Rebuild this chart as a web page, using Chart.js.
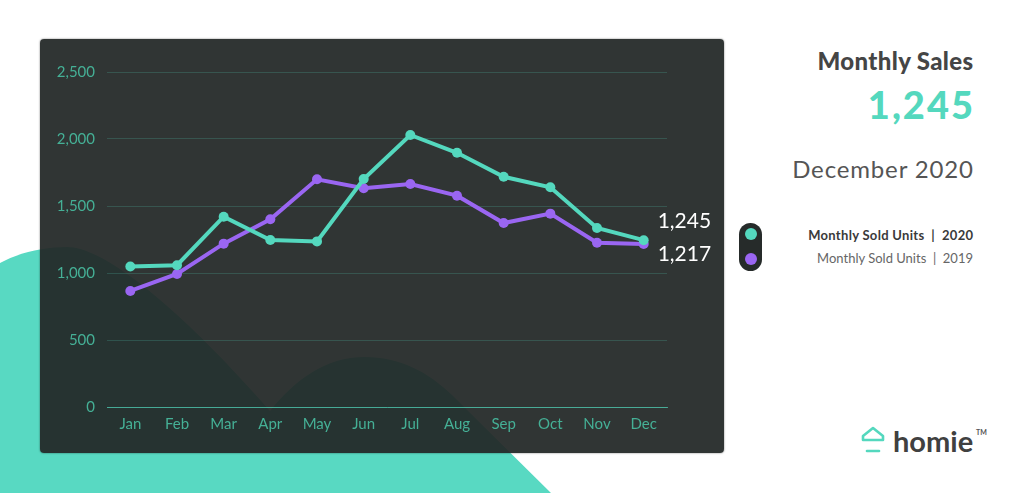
<!DOCTYPE html>
<html><head><meta charset="utf-8">
<script src="https://cdn.jsdelivr.net/npm/chart.js@4.4.0/dist/chart.umd.min.js"></script>
<style>
html,body{margin:0;padding:0;background:#fff;width:1024px;height:493px;overflow:hidden;font-family:Lato, sans-serif;}
#bg{position:absolute;left:0;top:0;}
#panel{position:absolute;left:40px;top:39px;width:684px;height:414px;background:rgba(35,40,39,0.94);border-radius:4px;box-shadow:0 0 2px rgba(0,0,0,0.55);}
#chartWrap{position:absolute;left:40px;top:39px;width:684px;height:414px;}
.t{position:absolute;text-align:right;white-space:nowrap;}
#h1{right:50.6px;top:48.7px;font-size:24px;line-height:24px;font-weight:900;color:#454545;letter-spacing:0.35px;}
#big{right:49px;top:85px;font-size:38px;line-height:38px;font-weight:900;color:#54d8be;letter-spacing:2px;}
#date{right:50.2px;top:156.7px;font-size:24px;line-height:24px;font-weight:400;color:#555;letter-spacing:0.85px;}
#l1{right:50.7px;top:228.5px;font-size:13px;line-height:13px;font-weight:700;color:#3a3a3a;letter-spacing:0.3px;}
#l2{right:51px;top:251.5px;font-size:13px;line-height:13px;font-weight:400;color:#666;}
#pill{position:absolute;left:739px;top:223px;width:23px;height:48px;border-radius:12px;background:#262b2a;}
.dot{position:absolute;left:5.5px;width:12px;height:12px;border-radius:6px;}
#logo{position:absolute;left:893px;top:426px;font-size:29px;line-height:29px;font-weight:700;color:#404040;}
#tm{position:absolute;left:976px;top:429px;font-size:7px;line-height:7px;color:#555;font-weight:700;}
</style></head>
<body>
<svg id="bg" width="1024" height="493">
<path d="M0,263 C20,252 45,247 67,247 C110,247 195,325 270,411 C295,380 325,357 365,357 C400,357 428,372 452,395 L551,493 L0,493 Z" fill="#58d9c2"/>
</svg>
<div id="panel"></div>
<div id="chartWrap"><canvas id="c" width="684" height="414"></canvas></div>
<div class="t" id="h1">Monthly Sales</div>
<div class="t" id="big">1,245</div>
<div class="t" id="date">December 2020</div>
<div class="t" id="l1">Monthly Sold Units&nbsp; |&nbsp; 2020</div>
<div class="t" id="l2">Monthly Sold Units&nbsp; |&nbsp; 2019</div>
<div id="pill"><div class="dot" style="top:5px;background:#54d8be"></div><div class="dot" style="top:30px;background:#9a66f2"></div></div>
<svg style="position:absolute;left:858px;top:424px" width="32" height="32">
<path d="M5,16 L5,12 L15,4 L25,12 L25,16 Z" fill="none" stroke="#54d8be" stroke-width="2.6" stroke-linejoin="round"/>
<line x1="9" y1="27" x2="21" y2="27" stroke="#54d8be" stroke-width="2.6" stroke-linecap="round"/>
</svg>
<div id="logo">homie</div>
<div id="tm">TM</div>
<script>
const months = ['Jan','Feb','Mar','Apr','May','Jun','Jul','Aug','Sep','Oct','Nov','Dec'];
const sales2020 = [1048, 1058, 1420, 1246, 1236, 1701, 2030, 1897, 1718, 1640, 1336, 1245];
const sales2019 = [866, 993, 1219, 1401, 1699, 1632, 1664, 1577, 1373, 1443, 1226, 1217];
const yTicks = [0, 500, 1000, 1500, 2000, 2500];
const TEAL = '#54d8be', PURPLE = '#9a66f2';
const fmt = v => v.toLocaleString('en-US');

Chart.defaults.font.family = 'Lato';

const endLabels = {
  id: 'endLabels',
  afterDatasetsDraw(chart) {
    const {ctx, scales: {x, y}} = chart;
    const i = months.length - 1;
    const px = x.getPixelForValue(i);
    ctx.save();
    ctx.font = '21px Lato';
    ctx.fillStyle = '#ffffff';
    ctx.textBaseline = 'middle';
    ctx.textAlign = 'left';
    ctx.fillText(fmt(sales2020[i]), px + 14, y.getPixelForValue(sales2020[i]) - 19);
    ctx.fillText(fmt(sales2019[i]), px + 14, y.getPixelForValue(sales2019[i]) + 10);
    ctx.restore();
  }
};

new Chart(document.getElementById('c'), {
  type: 'line',
  data: {
    labels: months,
    datasets: [
      {label: 'Monthly Sold Units | 2020', data: sales2020, borderColor: TEAL, backgroundColor: TEAL,
       borderWidth: 4, pointRadius: 5, pointBorderWidth: 0, tension: 0},
      {label: 'Monthly Sold Units | 2019', data: sales2019, borderColor: PURPLE, backgroundColor: PURPLE,
       borderWidth: 4, pointRadius: 5, pointBorderWidth: 0, tension: 0}
    ]
  },
  options: {
    responsive: false,
    animation: false,
    layout: {padding: {top: 33, right: 57, left: 0, bottom: 0}},
    plugins: {legend: {display: false}, tooltip: {enabled: false}},
    scales: {
      x: {
        offset: true,
        grid: {display: false, drawTicks: false},
        border: {display: true, color: 'rgba(84,216,190,0.65)', width: 1},
        ticks: {color: '#45b096', font: {size: 15}, padding: 8},
        afterFit(s) { s.height = 46; }
      },
      y: {
        min: 0, max: 2500,
        afterBuildTicks(s) { s.ticks = yTicks.map(v => ({value: v})); },
        grid: {color: 'rgba(84,216,190,0.2)', drawTicks: false, lineWidth: 1},
        border: {display: false},
        ticks: {color: '#45b096', font: {size: 15}, padding: 12, callback: v => fmt(v)},
        afterFit(s) { s.width = 67; }
      }
    }
  },
  plugins: [endLabels]
});
</script>
</body></html>
